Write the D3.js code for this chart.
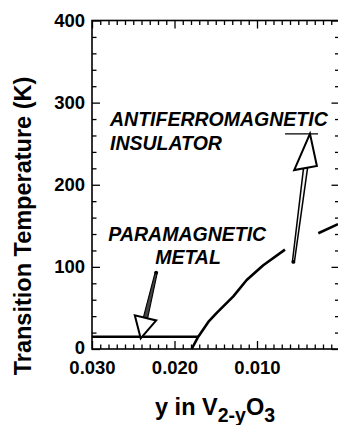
<!DOCTYPE html>
<html>
<head>
<meta charset="utf-8">
<script src="https://cdn.jsdelivr.net/npm/d3@7"></script>
<style>
  html, body { margin: 0; padding: 0; background: #fff; }
  svg { display: block; }
  text { font-family: "Liberation Sans", Arial, Helvetica, sans-serif; font-weight: bold; fill: #000; }
</style>
</head>
<body>
<svg id="chart" width="338" height="425"></svg>
<script>
// Néel transition of V(2-y)O3 versus vanadium deficiency y
const yDeficiency = [0.01792, 0.01712, 0.01590, 0.01488, 0.01287, 0.01125, 0.00924, 0.00661, null, 0.00257, 0.00018];
const transitionK = [0, 15, 33, 44, 64, 84, 102, 121, null, 141, 152];

// Low-temperature boundary of the paramagnetic metal region
const pmLineY = [0.030, 0.0171];
const pmLineK = [15, 15];

// Axis ticks
const xMajorTicks = [0.030, 0.020, 0.010, 0.000];
const xTickLabels = ["0.030", "0.020", "0.010"];
const yMajorTicks = [0, 100, 200, 300, 400];
const yTickLabels = ["0", "100", "200", "300", "400"];

// Phase labels and arrows
const phaseLabels = ["ANTIFERROMAGNETIC", "INSULATOR", "PARAMAGNETIC", "METAL"];
const afArrow = { tail: [0.00559, 106], tip: [0.00358, 262] };
const afMarkY = [0.0066, 0.0026];
const afMarkK = 262;
const pmArrow = { tail: [0.02222, 93], tip: [0.02410, 13] };

const svg = d3.select("#chart");

const x = d3.scaleLinear().domain([0.030, 0.000]).range([92, 339.5]);
const y = d3.scaleLinear().domain([0, 400]).range([349, 20.5]);

const xMinor = d3.range(0, 31).map(i => i / 1000).filter(v => !xMajorTicks.some(m => Math.abs(m - v) < 1e-9));
const yMinor = d3.range(0, 401, 20).filter(v => v % 100 !== 0);

function styleAxis(g) {
  g.select(".domain").remove();
  g.selectAll(".tick line").attr("stroke", "#000").attr("stroke-width", 1.3);
}

// Bottom axis with labels
svg.append("g").attr("transform", `translate(0,${y(0)})`)
  .call(d3.axisBottom(x).tickValues(xMajorTicks).tickSize(-8).tickPadding(12)
    .tickFormat(d => { const i = xMajorTicks.indexOf(d); return xTickLabels[i] || ""; }))
  .call(styleAxis)
  .call(g => g.selectAll("text").attr("font-size", 18.5).attr("font-family", null));
svg.append("g").attr("transform", `translate(0,${y(0)})`)
  .call(d3.axisBottom(x).tickValues(xMinor).tickSize(-4.5).tickFormat(""))
  .call(styleAxis);

// Top axis, ticks only
svg.append("g").attr("transform", `translate(0,${y(400)})`)
  .call(d3.axisTop(x).tickValues(xMajorTicks).tickSize(-8).tickFormat(""))
  .call(styleAxis);
svg.append("g").attr("transform", `translate(0,${y(400)})`)
  .call(d3.axisTop(x).tickValues(xMinor).tickSize(-4.5).tickFormat(""))
  .call(styleAxis);

// Left axis with labels
svg.append("g").attr("transform", `translate(${x(0.030)},0)`)
  .call(d3.axisLeft(y).tickValues(yMajorTicks).tickSize(-8).tickPadding(7)
    .tickFormat(d => yTickLabels[yMajorTicks.indexOf(d)]))
  .call(styleAxis)
  .call(g => g.selectAll("text").attr("font-size", 18.5).attr("font-family", null)
    .attr("dy", d => d === 0 ? "0.24em" : "0.3em"));
svg.append("g").attr("transform", `translate(${x(0.030)},0)`)
  .call(d3.axisLeft(y).tickValues(yMinor).tickSize(-4.5).tickFormat(""))
  .call(styleAxis);

// Right axis, ticks only
svg.append("g").attr("transform", `translate(${x(0)},0)`)
  .call(d3.axisRight(y).tickValues(yMajorTicks).tickSize(-8).tickFormat(""))
  .call(styleAxis);
svg.append("g").attr("transform", `translate(${x(0)},0)`)
  .call(d3.axisRight(y).tickValues(yMinor).tickSize(-4.5).tickFormat(""))
  .call(styleAxis);

// Frame
svg.append("rect")
  .attr("x", x(0.030)).attr("y", y(400))
  .attr("width", x(0) - x(0.030)).attr("height", y(0) - y(400))
  .attr("fill", "none").attr("stroke", "#000").attr("stroke-width", 1.6);

// Paramagnetic metal boundary
const line = d3.line().defined(d => d[0] != null && d[1] != null).x(d => x(d[0])).y(d => y(d[1]));
svg.append("path")
  .datum(pmLineY.map((v, i) => [v, pmLineK[i]]))
  .attr("d", line).attr("fill", "none").attr("stroke", "#000").attr("stroke-width", 2.6);

// Transition temperature curve
svg.append("path")
  .datum(yDeficiency.map((v, i) => [v, transitionK[i]]))
  .attr("d", line).attr("fill", "none").attr("stroke", "#000").attr("stroke-width", 2.6)
  .attr("stroke-linejoin", "round");

// Level mark at the arrow tip
svg.append("line")
  .attr("x1", x(afMarkY[0])).attr("x2", x(afMarkY[1]))
  .attr("y1", y(afMarkK)).attr("y2", y(afMarkK))
  .attr("stroke", "#000").attr("stroke-width", 1.2);

// Hollow-headed arrow with an outlined shaft
function drawArrow(a, opt) {
  const t0 = [x(a.tail[0]), y(a.tail[1])];
  const t1 = [x(a.tip[0]), y(a.tip[1])];
  const dx = t1[0] - t0[0], dy = t1[1] - t0[1];
  const len = Math.hypot(dx, dy);
  const u = [dx / len, dy / len];
  const n = [-u[1], u[0]];
  const baseMid = [t1[0] - u[0] * opt.headBack, t1[1] - u[1] * opt.headBack];
  const sw = opt.shaftHalf;
  const shaft = [
    [t0[0] + n[0] * sw * 0.5, t0[1] + n[1] * sw * 0.5],
    [baseMid[0] + n[0] * sw, baseMid[1] + n[1] * sw],
    [baseMid[0] - n[0] * sw, baseMid[1] - n[1] * sw],
    [t0[0] - n[0] * sw * 0.5, t0[1] - n[1] * sw * 0.5]
  ];
  svg.append("polygon")
    .attr("points", shaft.map(p => p.join(",")).join(" "))
    .attr("fill", opt.shaftFill).attr("stroke", "#000").attr("stroke-width", opt.shaftStroke);
  svg.append("circle").attr("cx", t0[0]).attr("cy", t0[1]).attr("r", 1.9).attr("fill", "#000");
  const left = [t1[0] - u[0] * opt.backLeft + n[0] * opt.halfWidth, t1[1] - u[1] * opt.backLeft + n[1] * opt.halfWidth];
  const right = [t1[0] - u[0] * opt.backRight - n[0] * opt.halfWidth, t1[1] - u[1] * opt.backRight - n[1] * opt.halfWidth];
  svg.append("polygon")
    .attr("points", [t1, left, right].map(p => p.join(",")).join(" "))
    .attr("fill", "#fff").attr("stroke", "#000").attr("stroke-width", 2)
    .attr("stroke-linejoin", "miter");
}

drawArrow(afArrow, { headBack: 34, backLeft: 31, backRight: 38, halfWidth: 11, shaftHalf: 2.0, shaftFill: "#f2f2f2", shaftStroke: 1.5 });
drawArrow(pmArrow, { headBack: 20, backLeft: 21, backRight: 21, halfWidth: 11, shaftHalf: 2.2, shaftFill: "#444", shaftStroke: 1.1 });

// Phase labels
const labelGroup = svg.append("g").attr("font-size", 19.5).attr("font-style", "italic");
labelGroup.append("text").attr("x", x(0.02782)).attr("y", y(271)).text(phaseLabels[0]);
labelGroup.append("text").attr("x", x(0.02782)).attr("y", y(242.3)).text(phaseLabels[1]);
labelGroup.append("text").attr("x", x(0.02802)).attr("y", y(131.5)).text(phaseLabels[2]);
labelGroup.append("text").attr("x", x(0.01836)).attr("y", y(102.9)).attr("text-anchor", "middle").text(phaseLabels[3]);

// Axis titles
svg.append("text")
  .attr("transform", `translate(31,226) rotate(-90)`)
  .attr("text-anchor", "middle").attr("font-size", 23.5)
  .text("Transition Temperature (K)");

const xt = svg.append("text").attr("x", 155).attr("y", 415).attr("font-size", 23.5);
xt.append("tspan").text("y in V");
xt.append("tspan").attr("font-size", 19.5).attr("dy", 7).text("2-y");
xt.append("tspan").attr("dy", -7).text("O");
xt.append("tspan").attr("font-size", 19.5).attr("dy", 7).text("3");
</script>
</body>
</html>
